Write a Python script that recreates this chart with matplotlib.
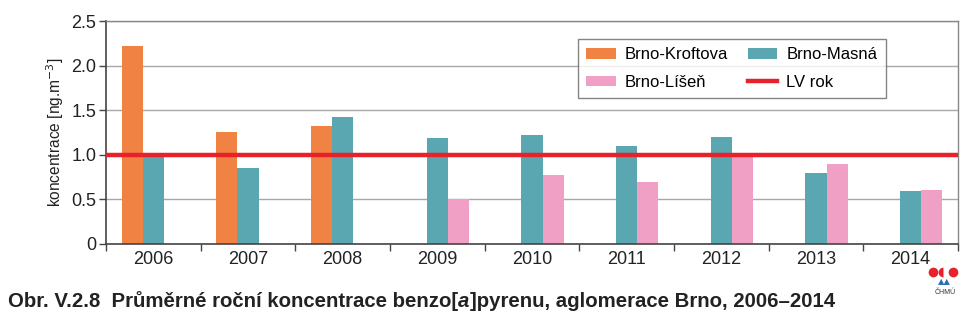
import numpy as np
import matplotlib.pyplot as plt
from matplotlib.lines import Line2D

# Hodnoty - prumerne rocni koncentrace benzo[a]pyrenu
roky = ['2006', '2007', '2008', '2009', '2010', '2011', '2012', '2013', '2014']
kroftova = [2.22, 1.26, 1.32, np.nan, np.nan, np.nan, np.nan, np.nan, np.nan]
masna = [0.99, 0.85, 1.42, 1.19, 1.22, 1.10, 1.20, 0.80, 0.59]
lisen = [np.nan, np.nan, np.nan, 0.50, 0.77, 0.70, 0.98, 0.90, 0.60]
lv_rok = 1.0

plt.rcParams['font.family'] = ['Liberation Sans', 'DejaVu Sans']

fig = plt.figure(figsize=(9.76, 3.29), dpi=100)
ax = fig.add_axes([106/976, (329-244)/329, 852/976, 223/329])

x = np.arange(len(roky))
w = 0.222
ax.bar(x - w, kroftova, w, color='#f08244', label='Brno-Kroftova', zorder=2)
ax.bar(x, masna, w, color='#5aa7b2', label='Brno-Masná', zorder=2)
ax.bar(x + w, lisen, w, color='#f0a0c4', label='Brno-Líšeň', zorder=2)
ax.axhline(lv_rok, color='#e8222a', lw=3.2, label='LV rok', zorder=3)

ax.set_xlim(-0.5, len(roky) - 0.5)
ax.set_ylim(0, 2.5)
ax.set_yticks([0, 0.5, 1.0, 1.5, 2.0, 2.5])
ax.set_yticklabels(['0', '0.5', '1.0', '1.5', '2.0', '2.5'])
ax.yaxis.grid(True, color='#a8a8a8', lw=1, zorder=0)

# popisky let mezi carkami
ax.set_xticks(np.arange(-0.5, len(roky)), labels=[])
ax.set_xticks(x, labels=roky, minor=True)
ax.tick_params(axis='x', which='minor', length=0, pad=5)
ax.tick_params(axis='x', which='major', length=5, width=1, color='#444444')
ax.tick_params(axis='y', length=5, width=1, color='#444444', pad=2)
ax.tick_params(which='both', labelsize=13, labelcolor='#222222')

for s in ['left', 'bottom']:
    ax.spines[s].set_color('#444444')
    ax.spines[s].set_linewidth(1.2)
for s in ['top', 'right']:
    ax.spines[s].set_color('#888888')
    ax.spines[s].set_linewidth(1)

ax.set_ylabel('koncentrace [ng.m$^{-3}$]', fontsize=11.2, color='#222222', labelpad=4)

h, l = ax.get_legend_handles_labels()
order = [1, 3, 2, 0]
leg = ax.legend([h[i] for i in order], [l[i] for i in order], ncol=2,
                loc='upper left', bbox_to_anchor=(0.554, 0.919), borderaxespad=0,
                fontsize=12, frameon=True, fancybox=False, edgecolor='#666666',
                handlelength=1.75, handleheight=0.55, handletextpad=0.55,
                columnspacing=1.2, borderpad=0.5, labelspacing=0.75)
leg.get_frame().set_linewidth(1)

# titulek s kurzivou
cap_font = ['Liberation Sans Narrow', 'Liberation Sans', 'DejaVu Sans']
t1 = fig.text(8/976, 1 - 307/329, 'Obr. V.2.8  Průměrné roční koncentrace benzo[',
              fontsize=14.7, fontweight='bold', family=cap_font, color='#222222')
t2 = ax.annotate('a', xy=(1, 0), xycoords=t1, va='bottom', ha='left',
                 fontsize=14.7, fontweight='bold', style='italic', family=cap_font,
                 color='#222222', annotation_clip=False)
ax.annotate(']pyrenu, aglomerace Brno, 2006–2014', xy=(1, 0), xycoords=t2,
            va='bottom', ha='left', fontsize=14.7, fontweight='bold',
            family=cap_font, color='#222222', annotation_clip=False)

# logo CHMU
ly = 1 - 272/329
for cx, fs in ((933, 'full'), (943, 'left'), (953, 'full')):
    fig.add_artist(Line2D([cx/976], [ly], marker='o', ms=7, fillstyle=fs,
                          color='#e8222a', mew=0, transform=fig.transFigure))
fig.text(944/976, 1 - 282/329, '▲▲', fontsize=6, color='#2a6fb5',
         ha='center', va='center', family=['DejaVu Sans'])
fig.text(945/976, 1 - 292/329, 'ČHMÚ', fontsize=5, color='#333333',
         ha='center', va='center')

fig.savefig('out.png', dpi=100)
